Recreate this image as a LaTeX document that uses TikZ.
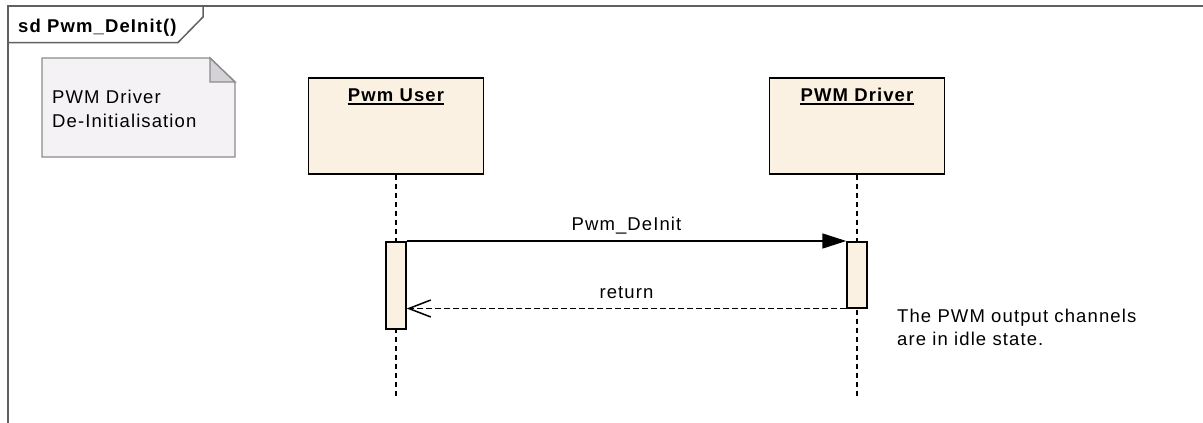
\documentclass[tikz,border=0pt]{standalone}
\usepackage{fontspec}
\setmainfont{Liberation Sans}[LetterSpace=6]
\usetikzlibrary{arrows.meta}
\definecolor{lifefill}{RGB}{251,241,226}
\definecolor{notefill}{RGB}{245,242,246}
\definecolor{noteline}{RGB}{140,140,140}
\definecolor{foldfill}{RGB}{212,210,214}
\definecolor{framegray}{RGB}{96,96,96}
\tikzset{
  lifebox/.style={draw=black, line width=1.7pt, fill=lifefill, minimum width=175pt, minimum height=96pt, inner sep=0pt},
  lifelbl/.style={font=\fontsize{18.5}{23.5}\selectfont\bfseries, anchor=base, inner sep=0pt},
  actbar/.style={draw=black, line width=1.5pt, fill=lifefill, minimum width=20pt, inner sep=0pt, anchor=north},
  lifeline/.style={line width=1.6pt, dash pattern=on 5pt off 4pt},
  callmsg/.style={line width=1.6pt, -{Triangle[length=24pt,width=15pt]}},
  retmsg/.style={line width=1.5pt, dash pattern=on 6pt off 3pt, -{Straight Barb[length=22pt,width=17pt,line width=1.5pt]}},
  txt/.style={inner sep=0pt, anchor=base west, align=left},
  framestroke/.style={draw=framegray, line width=1.5pt},
}
\begin{document}
\begin{tikzpicture}[x=1pt, y=-1pt, font=\fontsize{18.5}{23.5}\selectfont]
  \useasboundingbox (0,0) rectangle (1203,423);

  % diagram frame and its name tab
  \draw[framestroke] (8,423) -- (8,6) -- (1203,6);
  \draw[framestroke] (8,42.5) -- (178,42.5) -- (203,17) -- (203,6);
  \node[txt, font=\fontsize{18.5}{23.5}\selectfont\bfseries] (title) at (18,32.5) {sd Pwm\_DeInit()};

  % comment note with folded corner
  \draw[draw=noteline, fill=notefill, line width=1.4pt]
    (42,58) -- (210,58) -- (235,82) -- (235,157) -- (42,157) -- cycle;
  \draw[draw=noteline, fill=foldfill, line width=1.4pt]
    (210,58) -- (210,82) -- (235,82) -- cycle;
  % multi-line nodes sit on the baseline of their last line
  \node[txt] (notetext) at (52,127) {PWM Driver\\De-Initialisation};

  % lifeline heads
  \node[lifebox, anchor=north] (user) at (396,77) {};
  \node[lifebox, anchor=north] (driver) at (857,77) {};
  \node[lifelbl] (userlbl) at (396,101) {Pwm User};
  \node[lifelbl] (driverlbl) at (857,101) {PWM Driver};
  \draw[line width=2.2pt] ([yshift=-3pt]userlbl.base west) -- ([yshift=-3pt]userlbl.base east);
  \draw[line width=2.2pt] ([yshift=-3pt]driverlbl.base west) -- ([yshift=-3pt]driverlbl.base east);

  % lifelines
  \coordinate (userend) at (396,396);
  \coordinate (driverend) at (857,396);
  \draw[lifeline] (user.south) -- (userend);
  \draw[lifeline] (driver.south) -- (driverend);

  % activation bars
  \node[actbar, minimum height=87pt] (ua) at (396,241) {};
  \node[actbar, minimum height=66pt] (da) at (857,241) {};

  % messages
  \draw[callmsg] (ua.north east) -- (da.north west);
  \node[inner sep=0pt, anchor=base] (calllbl) at (626.5,230) {Pwm\_DeInit};
  \draw[retmsg] (da.south west) -- (ua.east |- da.south west);
  \node[inner sep=0pt, anchor=base] (retlbl) at (626.5,298) {return};

  % annotation beside the driver lifeline
  \node[txt] (statetext) at (897,345.5) {The PWM output channels\\are in idle state.};
\end{tikzpicture}
\end{document}
